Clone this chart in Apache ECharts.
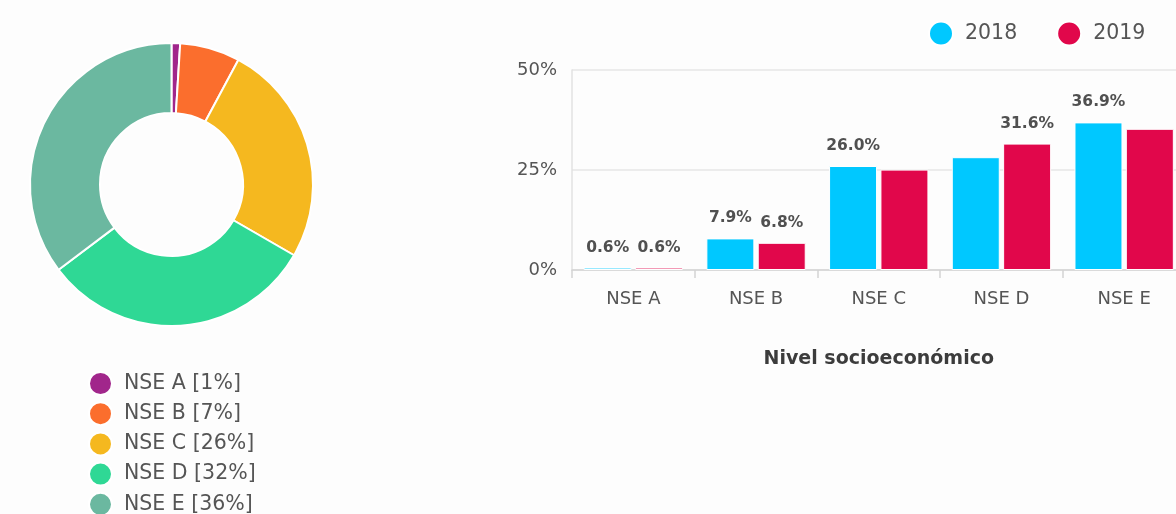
<!DOCTYPE html>
<html>
<head>
<meta charset="utf-8">
<script src="https://cdn.jsdelivr.net/npm/echarts@6/dist/echarts.min.js"></script>
<style>
  html, body { margin: 0; padding: 0; background: #fdfdfd; overflow: hidden; }
  /* the bar plot runs past the right edge of the view */
  #chart { width: 1200px; height: 514px; }
</style>
</head>
<body>
<div id="chart"></div>
<script>
// Distribución por nivel socioeconómico
const categories = ['NSE A', 'NSE B', 'NSE C', 'NSE D', 'NSE E'];
const sharePct = [1, 7, 26, 32, 36];
const values2018 = [0.6, 7.9, 26.0, 28.2, 36.9];
const values2019 = [0.6, 6.8, 25.1, 31.6, 35.3];
const labelShown2018 = [true, true, true, false, true];
const labelShown2019 = [true, true, false, true, false];
const years = ['2018', '2019'];
const yTicks = [0, 25, 50];

const sliceColors = ['#a1268b', '#fb6e2d', '#f5b81f', '#2fd895', '#6bb8a0'];
const yearColors = ['#00c8ff', '#e1074b'];
const font = '"DejaVu Sans", Verdana, sans-serif';
const textGray = '#555555';

const pieData = categories.map((c, i) => ({
  name: c, value: sharePct[i], itemStyle: { color: sliceColors[i] }
}));
const shareByName = Object.fromEntries(categories.map((c, i) => [c, sharePct[i]]));

function barData(values, shown) {
  return values.map((v, i) => ({ value: v, label: { show: shown[i] } }));
}

const barLabel = {
  show: true, position: 'top', distance: 12,
  formatter: p => p.value.toFixed(1) + '%',
  fontFamily: font, fontSize: 15.5, fontWeight: 'bold', color: '#505050'
};

const legendText = { fontSize: 20.5, lineHeight: 23, color: textGray, padding: [0, 0, 0, 7], fontFamily: font };

const chart = echarts.init(document.getElementById('chart'));
chart.setOption({
  backgroundColor: '#fdfdfd',
  animation: false,
  textStyle: { fontFamily: font },
  legend: [
    {
      data: categories,
      orient: 'vertical', left: 88, top: 371, height: 200, padding: 0,
      icon: 'circle', itemWidth: 23, itemHeight: 23, itemGap: 5.2,
      textStyle: legendText,
      formatter: name => `${name} [${shareByName[name]}%]`
    },
    {
      data: years,
      left: 928, top: 20.5, padding: 0,
      icon: 'circle', itemWidth: 24, itemHeight: 24, itemGap: 39,
      textStyle: legendText
    }
  ],
  grid: { left: 572, right: 14.5, top: 70, bottom: 244 },
  xAxis: {
    type: 'category',
    data: categories,
    name: 'Nivel socioeconómico',
    nameLocation: 'middle',
    nameGap: 80,
    nameTextStyle: { fontSize: 19, fontWeight: 'bold', color: '#3c3c3c', fontFamily: font },
    axisLine: { lineStyle: { color: '#d4d4d4', width: 1.5 } },
    axisTick: { show: true, length: 8, lineStyle: { color: '#d4d4d4', width: 1.5 } },
    axisLabel: { fontSize: 18, color: textGray, margin: 20, fontFamily: font }
  },
  yAxis: {
    type: 'value',
    min: yTicks[0], max: yTicks[yTicks.length - 1], interval: 25,
    axisLine: { show: true, lineStyle: { color: '#e2e2e2', width: 1.5 } },
    axisTick: { show: false },
    axisLabel: { formatter: '{value}%', fontSize: 18, color: textGray, margin: 15, fontFamily: font },
    splitLine: { lineStyle: { color: '#e6e6e6', width: 1.5 } }
  },
  series: [
    {
      type: 'pie',
      center: [171.5, 184.5],
      radius: [71.5, 141.5],
      startAngle: 90,
      clockwise: true,
      label: { show: false },
      labelLine: { show: false },
      itemStyle: { borderColor: '#ffffff', borderWidth: 2 },
      data: pieData
    },
    {
      name: years[0], type: 'bar',
      barWidth: 48, barGap: '7%',
      itemStyle: { color: yearColors[0], borderColor: '#ffffff', borderWidth: 1 },
      label: barLabel,
      data: barData(values2018, labelShown2018)
    },
    {
      name: years[1], type: 'bar',
      barWidth: 48,
      itemStyle: { color: yearColors[1], borderColor: '#ffffff', borderWidth: 1 },
      label: barLabel,
      data: barData(values2019, labelShown2019)
    }
  ]
});
</script>
</body>
</html>
